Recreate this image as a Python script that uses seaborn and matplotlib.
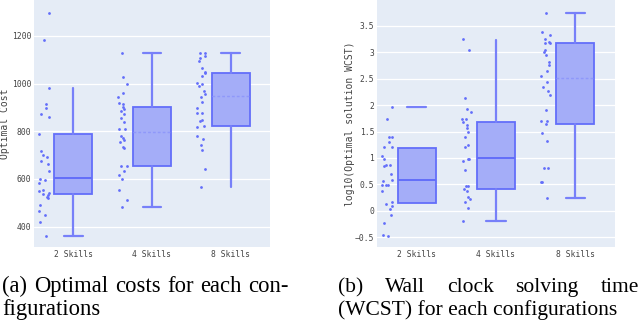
import numpy as np
import pandas as pd
import seaborn as sns
import matplotlib.pyplot as plt
import matplotlib.ticker as mticker

configs = ['2 Skills', '4 Skills', '8 Skills']

# Optimal cost samples per configuration
cost_2 = [1295, 1183, 981, 915, 899, 874, 861, 788, 715, 701, 691, 677, 662, 631, 600,
          596, 584, 554, 551, 542, 537, 533, 526, 519, 492, 464, 448, 417, 361]
cost_4 = [1127, 1029, 999, 962, 945, 920, 915, 903, 894, 885, 873, 856, 839, 809, 809,
          781, 772, 764, 756, 735, 729, 655, 652, 631, 617, 599, 554, 512, 481]
cost_8 = [1130, 1130, 1116, 1106, 1096, 1064, 1048, 1043, 1032, 1002, 999, 991, 970, 955,
          943, 923, 899, 878, 876, 848, 843, 822, 819, 780, 767, 741, 722, 643, 566]

# log10 of wall clock solving time samples
wcst_2 = [1.97, 1.74, 1.40, 1.40, 1.30, 1.20, 1.20, 1.04, 0.97, 0.87, 0.87, 0.84, 0.70,
          0.58, 0.56, 0.49, 0.49, 0.49, 0.38, 0.17, 0.12, 0.08, 0.03, -0.09, -0.24,
          -0.46, -0.48]
wcst_4 = [3.25, 3.04, 2.13, 1.92, 1.87, 1.73, 1.73, 1.68, 1.62, 1.57, 1.50, 1.40, 1.24,
          1.21, 0.98, 0.98, 0.95, 0.77, 0.47, 0.47, 0.42, 0.38, 0.26, 0.23, 0.17, 0.05,
          -0.19]
wcst_8 = [3.75, 3.38, 3.33, 3.25, 3.20, 3.18, 3.18, 3.04, 3.01, 2.95, 2.82, 2.76, 2.65,
          2.55, 2.44, 2.35, 2.26, 2.19, 1.91, 1.70, 1.70, 1.65, 1.48, 1.32, 0.80, 0.80,
          0.54, 0.54, 0.24]

# box statistics as shown in the figure
cost_q1 = [536, 655, 824]
cost_med = [603, 797, 947]
cost_q3 = [787, 903, 1046]
cost_lo = [362, 481, 568]
cost_hi = [980, 1130, 1130]

wcst_q1 = [0.14, 0.42, 1.64]
wcst_med = [0.58, 0.99, 2.51]
wcst_q3 = [1.18, 1.68, 3.18]
wcst_lo = [0.14, -0.19, 0.24]
wcst_hi = [1.97, 3.23, 3.75]

BLUE = '#636EFA'
W, H = 640, 326

sns.set_theme(style='darkgrid', rc={
    'axes.facecolor': '#E5ECF6', 'grid.color': 'white', 'grid.linewidth': 0.9,
    'axes.edgecolor': '#E5ECF6', 'xtick.color': '#444444', 'ytick.color': '#444444',
    'axes.labelcolor': '#444444'})
plt.rcParams['font.family'] = ['DejaVu Sans Mono']
plt.rcParams['axes.unicode_minus'] = True

fig = plt.figure(figsize=(6.4, 3.26), dpi=100)
ax1 = fig.add_axes([34 / W, 1 - 247 / H, 236 / W, 247 / H])
ax2 = fig.add_axes([377 / W, 1 - 247 / H, 238 / W, 247 / H])


def draw_panel(ax, samples, q1, med, q3, lo, hi, caps, whisk, dashed_med):
    df = pd.DataFrame({'config': np.repeat(configs, [len(s) for s in samples]),
                       'value': np.concatenate(samples)})
    np.random.seed(4)
    sns.stripplot(data=df, x='config', y='value', order=configs, ax=ax, color=BLUE,
                  size=2.0, jitter=0.065, linewidth=0, zorder=3)
    for coll in ax.collections:
        off = coll.get_offsets()
        off[:, 0] -= 0.375
        coll.set_offsets(off)

    stats = [dict(med=m, q1=a, q3=b, whislo=l, whishi=h, fliers=[])
             for m, a, b, l, h in zip(med, q1, q3, lo, hi)]
    art = ax.bxp(stats, positions=range(3), widths=0.48, capwidths=0.24,
                 patch_artist=True, showfliers=False, manage_ticks=False,
                 boxprops=dict(facecolor='#A4ADF8', edgecolor=BLUE, linewidth=1.3),
                 medianprops=dict(color=BLUE, linewidth=1.4),
                 whiskerprops=dict(color='#7780F9', linewidth=1.6),
                 capprops=dict(color='#7780F9', linewidth=1.6))
    for i in range(3):
        for j in range(2):
            art['caps'][2 * i + j].set_visible(caps[i][j])
            art['whiskers'][2 * i + j].set_visible(whisk[i][j])
        if dashed_med[i]:
            art['medians'][i].set_linestyle((0, (2, 1.5)))
            art['medians'][i].set_color('#8F98FA')
            art['medians'][i].set_linewidth(1.0)

    ax.set_xlim(-0.5, 2.5)
    ax.grid(axis='x', visible=False)
    ax.set_xlabel('')
    ax.tick_params(length=0, pad=2, labelsize=5.8)
    for s in ax.spines.values():
        s.set_visible(False)


draw_panel(ax1, [cost_2, cost_4, cost_8], cost_q1, cost_med, cost_q3, cost_lo, cost_hi,
           caps=[(True, False), (True, True), (False, True)],
           whisk=[(True, True), (True, True), (True, True)],
           dashed_med=[False, True, True])
ax1.set_ylim(314, 1351)
ax1.set_yticks([400, 600, 800, 1000, 1200])
ax1.set_ylabel('Optimal Cost', fontsize=7, va='center')
ax1.yaxis.set_label_coords((5.5 - 34) / 236, 0.5)

draw_panel(ax2, [wcst_2, wcst_4, wcst_8], wcst_q1, wcst_med, wcst_q3, wcst_lo, wcst_hi,
           caps=[(False, True), (True, False), (True, True)],
           whisk=[(False, False), (True, True), (True, True)],
           dashed_med=[False, False, True])
ax2.set_ylim(-0.687, 3.99)
ax2.set_yticks([-0.5, 0, 0.5, 1, 1.5, 2, 2.5, 3, 3.5])
ax2.yaxis.set_major_formatter(mticker.FuncFormatter(lambda v, p: f'{v:g}'.replace('-', '\u2212')))
ax2.set_ylabel('log10(Optimal solution WCST)', fontsize=7, va='center')
ax2.yaxis.set_label_coords((350 - 377) / 238, 0.5)

# captions
cap_a = dict(family='Liberation Serif', fontsize=16.3, va='baseline', color='black')
cap_b = dict(family='Liberation Serif', fontsize=15.5, va='baseline', color='black')


def justified(words, x0, x1, y, kw):
    r = fig.canvas.get_renderer()
    texts = [fig.text(0, y, w, **kw) for w in words]
    widths = [t.get_window_extent(r).width for t in texts]
    gap = (x1 - x0 - sum(widths)) / (len(words) - 1)
    x = x0
    for t, w in zip(texts, widths):
        t.set_x(x / W)
        x += w + gap


justified(['(a)', 'Optimal', 'costs', 'for', 'each', 'con-'], 2, 289, 1 - 292 / H, cap_a)
fig.text(2 / W, 1 - 314.5 / H, 'figurations', **cap_a)
justified(['(b)', 'Wall', 'clock', 'solving', 'time'], 338, 639, 1 - 292 / H, cap_b)
fig.text(338 / W, 1 - 314.5 / H, '(WCST) for each configurations', **cap_b)

fig.savefig('out.png', dpi=100)
